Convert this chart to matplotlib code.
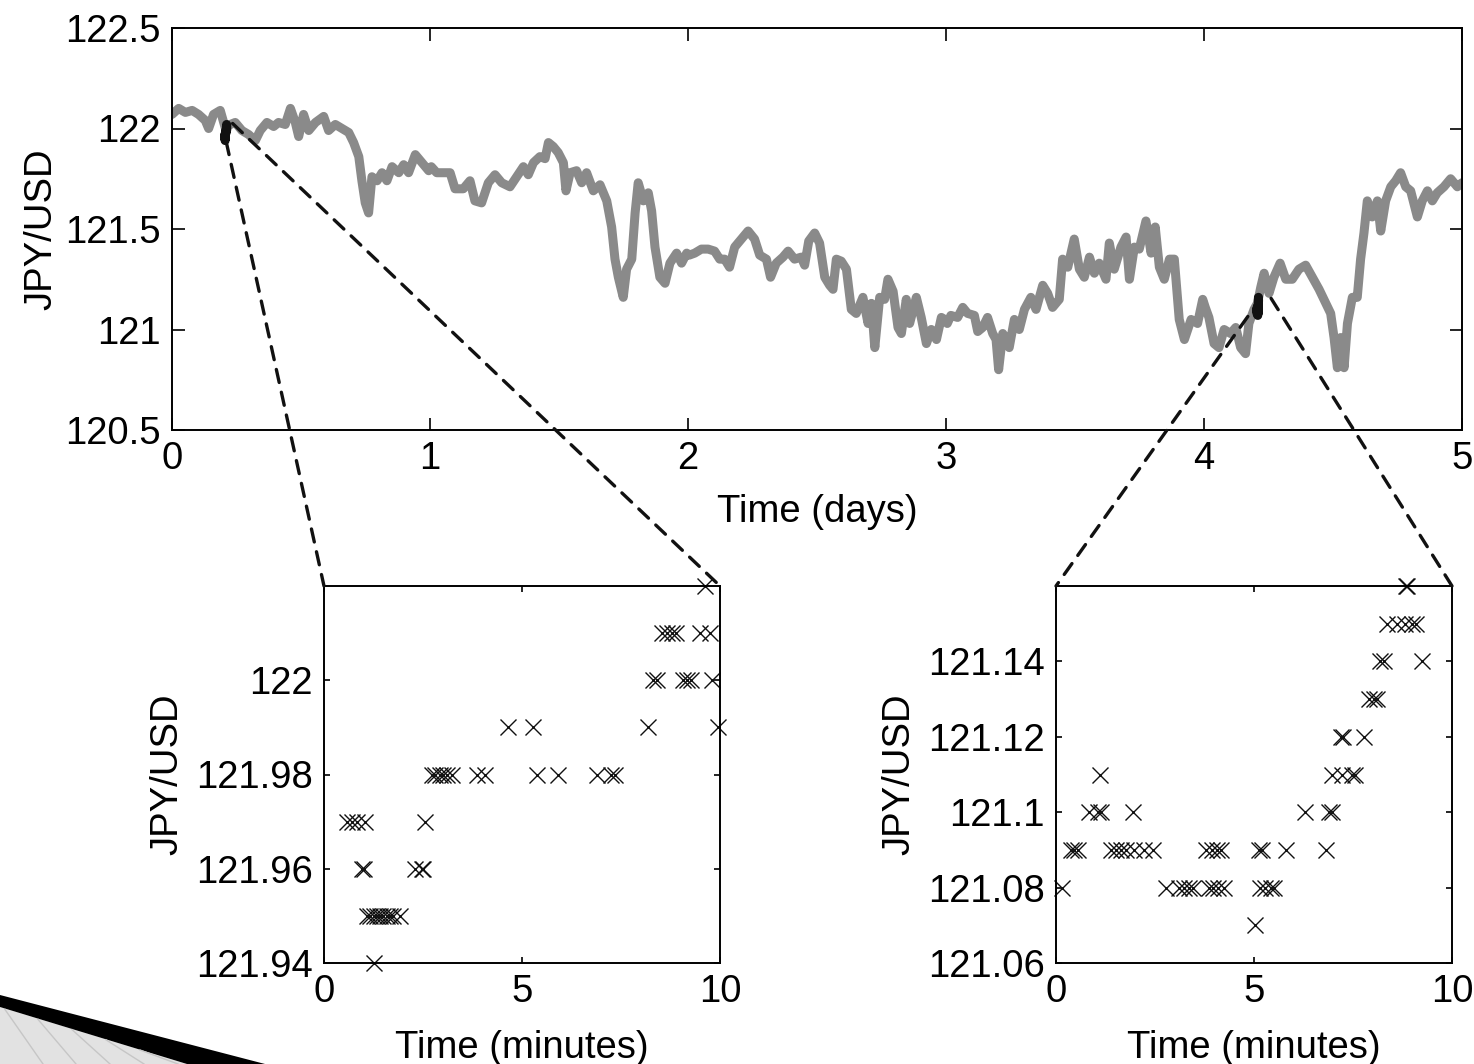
import numpy as np
import matplotlib.pyplot as plt
from matplotlib.patches import ConnectionPatch, Polygon
from matplotlib.lines import Line2D

plt.rcParams['font.family'] = ['Liberation Sans', 'DejaVu Sans']
plt.rcParams['font.size'] = 27.5

# ---- five days of JPY/USD quotes ----
days = [0.000, 0.026, 0.052, 0.078, 0.103, 0.129, 0.142, 0.161, 0.187, 0.207,
        0.226, 0.245, 0.271, 0.297, 0.323, 0.342, 0.368, 0.394, 0.413, 0.439,
        0.459, 0.478, 0.491, 0.510, 0.530, 0.556, 0.588, 0.607, 0.633, 0.659,
        0.685, 0.704, 0.724, 0.736, 0.749, 0.762, 0.775, 0.795, 0.814, 0.833,
        0.853, 0.879, 0.898, 0.917, 0.943, 0.969, 0.995,
        1.005, 1.026, 1.052, 1.078, 1.097, 1.129, 1.155, 1.174, 1.200, 1.226,
        1.252, 1.278, 1.310, 1.336, 1.362, 1.381, 1.401, 1.426, 1.446, 1.459,
        1.478, 1.497, 1.517, 1.527, 1.543, 1.568, 1.588, 1.607, 1.633, 1.659,
        1.685, 1.704, 1.717, 1.730, 1.749, 1.762, 1.782, 1.795, 1.807, 1.827,
        1.846, 1.859, 1.872, 1.891, 1.911, 1.930, 1.956, 1.975, 1.995,
        2.005, 2.026, 2.052, 2.078, 2.103, 2.123, 2.142, 2.161, 2.181, 2.207,
        2.233, 2.258, 2.278, 2.304, 2.320, 2.342, 2.368, 2.388, 2.413, 2.439,
        2.452, 2.468, 2.491, 2.510, 2.530, 2.549, 2.562, 2.575, 2.594, 2.614,
        2.633, 2.652, 2.678, 2.698, 2.711, 2.724, 2.743, 2.762, 2.775, 2.795,
        2.814, 2.827, 2.846, 2.859, 2.885, 2.904, 2.924, 2.943, 2.963, 2.982,
        2.995,
        3.005, 3.019, 3.045, 3.065, 3.084, 3.110, 3.123, 3.142, 3.161, 3.181,
        3.194, 3.204, 3.220, 3.233, 3.245, 3.265, 3.284, 3.304, 3.329, 3.349,
        3.375, 3.394, 3.413, 3.439, 3.452, 3.472, 3.497, 3.517, 3.536, 3.556,
        3.575, 3.594, 3.620, 3.633, 3.652, 3.678, 3.698, 3.711, 3.730, 3.749,
        3.775, 3.795, 3.811, 3.827, 3.846, 3.866, 3.885, 3.904, 3.924, 3.950,
        3.975, 3.995,
        4.005, 4.019, 4.039, 4.058, 4.078, 4.103, 4.123, 4.142, 4.161, 4.174,
        4.194, 4.207, 4.220, 4.233, 4.252, 4.271, 4.295, 4.317, 4.342, 4.368,
        4.394, 4.420, 4.446, 4.472, 4.491, 4.504, 4.517, 4.530, 4.543, 4.556,
        4.575, 4.594, 4.607, 4.620, 4.633, 4.652, 4.672, 4.685, 4.704, 4.724,
        4.743, 4.762, 4.782, 4.801, 4.827, 4.846, 4.866, 4.885, 4.904, 4.930,
        4.956, 4.982, 5.000]
jpy = [122.07, 122.10, 122.08, 122.09, 122.07, 122.04, 122.00, 122.07, 122.09, 122.00,
       122.02, 122.03, 121.99, 121.97, 121.94, 121.99, 122.03, 122.01, 122.03, 122.02,
       122.10, 122.03, 121.96, 122.07, 121.99, 122.03, 122.06, 121.99, 122.02, 122.00,
       121.98, 121.93, 121.86, 121.74, 121.63, 121.58, 121.76, 121.74, 121.78, 121.74,
       121.81, 121.78, 121.82, 121.78, 121.87, 121.83, 121.79,
       121.81, 121.78, 121.78, 121.78, 121.70, 121.70, 121.74, 121.64, 121.63, 121.73,
       121.77, 121.73, 121.71, 121.76, 121.81, 121.77, 121.83, 121.86, 121.85, 121.93,
       121.91, 121.88, 121.83, 121.69, 121.78, 121.79, 121.73, 121.78, 121.69, 121.72,
       121.64, 121.51, 121.35, 121.26, 121.16, 121.30, 121.35, 121.58, 121.73, 121.64,
       121.68, 121.59, 121.41, 121.26, 121.23, 121.33, 121.38, 121.33, 121.38,
       121.37, 121.38, 121.40, 121.40, 121.39, 121.35, 121.35, 121.31, 121.41, 121.45,
       121.49, 121.45, 121.37, 121.35, 121.26, 121.33, 121.36, 121.39, 121.35, 121.36,
       121.32, 121.44, 121.48, 121.43, 121.26, 121.22, 121.20, 121.35, 121.34, 121.30,
       121.10, 121.08, 121.16, 121.03, 121.13, 120.91, 121.16, 121.15, 121.25, 121.19,
       121.01, 120.98, 121.15, 121.03, 121.16, 121.06, 120.93, 121.00, 120.95, 121.06,
       121.05,
       121.03, 121.07, 121.06, 121.11, 121.08, 121.07, 120.99, 121.01, 121.06, 120.98,
       120.95, 120.80, 120.98, 120.95, 120.91, 121.05, 121.00, 121.10, 121.16, 121.10,
       121.22, 121.18, 121.11, 121.15, 121.35, 121.31, 121.45, 121.30, 121.26, 121.36,
       121.28, 121.33, 121.25, 121.43, 121.30, 121.41, 121.46, 121.25, 121.41, 121.40,
       121.54, 121.38, 121.51, 121.31, 121.25, 121.35, 121.35, 121.05, 120.95, 121.05,
       121.03, 121.15,
       121.11, 121.06, 120.93, 120.91, 121.00, 120.98, 121.01, 120.91, 120.88, 121.03,
       121.10, 121.13, 121.21, 121.28, 121.18, 121.26, 121.33, 121.25, 121.25, 121.30,
       121.32, 121.26, 121.20, 121.13, 121.08, 120.96, 120.81, 120.96, 120.81, 121.03,
       121.16, 121.16, 121.35, 121.48, 121.64, 121.56, 121.64, 121.49, 121.64, 121.71,
       121.74, 121.78, 121.71, 121.69, 121.56, 121.64, 121.69, 121.64, 121.68, 121.71,
       121.75, 121.71, 121.73]

# ---- ten-minute windows (tick by tick) ----
start_a = 0.205   # window start, days
min_a = [0.57, 0.70, 0.83, 0.95, 1.00, 1.04, 1.08, 1.16, 1.25, 1.27,
         1.33, 1.42, 1.50, 1.58, 1.67, 1.75, 1.92, 2.30, 2.47, 2.51,
         2.55, 2.72, 2.80, 2.93, 3.01, 3.10, 3.22, 3.86, 4.07, 4.64,
         5.29, 5.37, 5.92, 6.89, 7.26, 7.35, 8.17, 8.31, 8.40, 8.53,
         8.65, 8.78, 8.90, 9.07, 9.16, 9.28, 9.50, 9.62, 9.75, 9.80,
         9.94]
px_a = [121.97, 121.97, 121.97, 121.96, 121.96, 121.97, 121.95, 121.95, 121.94, 121.95,
        121.95, 121.95, 121.95, 121.95, 121.95, 121.95, 121.95, 121.96, 121.96, 121.96,
        121.97, 121.98, 121.98, 121.98, 121.98, 121.98, 121.98, 121.98, 121.98, 121.99,
        121.99, 121.98, 121.98, 121.98, 121.98, 121.98, 121.99, 122.00, 122.00, 122.01,
        122.01, 122.01, 122.01, 122.00, 122.00, 122.00, 122.01, 122.02, 122.01, 122.00,
        121.99]

start_b = 4.205
min_b = [0.15, 0.38, 0.46, 0.55, 0.84, 1.05, 1.12, 1.13, 1.39, 1.51,
         1.64, 1.76, 1.95, 1.97, 2.23, 2.44, 2.77, 3.11, 3.24, 3.36,
         3.45, 3.78, 3.87, 3.95, 3.96, 4.07, 4.08, 4.16, 4.24, 5.03,
         5.13, 5.14, 5.21, 5.29, 5.42, 5.50, 5.80, 6.30, 6.82, 6.89,
         6.97, 6.98, 7.19, 7.23, 7.25, 7.48, 7.56, 7.77, 7.90, 8.03,
         8.11, 8.19, 8.28, 8.36, 8.61, 8.82, 8.83, 8.87, 8.99, 9.08,
         9.24]
px_b = [121.08, 121.09, 121.09, 121.09, 121.10, 121.10, 121.11, 121.10, 121.09, 121.09,
        121.09, 121.09, 121.10, 121.09, 121.09, 121.09, 121.08, 121.08, 121.08, 121.08,
        121.08, 121.09, 121.08, 121.09, 121.08, 121.09, 121.08, 121.09, 121.08, 121.07,
        121.09, 121.08, 121.09, 121.08, 121.08, 121.08, 121.09, 121.10, 121.09, 121.10,
        121.10, 121.11, 121.12, 121.11, 121.12, 121.11, 121.11, 121.12, 121.13, 121.13,
        121.13, 121.14, 121.14, 121.15, 121.15, 121.15, 121.16, 121.16, 121.15, 121.15,
        121.14]

W, H = 1474, 1064
fig = plt.figure(figsize=(W / 100, H / 100), dpi=100)


def px_rect(x0, y0, x1, y1):
    # pixel box (top-left origin) -> figure fraction
    return [x0 / W, 1 - y1 / H, (x1 - x0) / W, (y1 - y0) / H]


def style_axes(ax, tick_len):
    ax.tick_params(direction='in', top=True, right=True, length=tick_len,
                   width=1.2, pad=8)
    for s in ax.spines.values():
        s.set_linewidth(1.4)


# ---- main panel ----
ax = fig.add_axes(px_rect(172, 28, 1462, 430))
ax.plot(days, jpy, color='#8a8a8a', lw=6.5, solid_joinstyle='round',
        solid_capstyle='round')
for t0, mins, vals in [(start_a, min_a, px_a), (start_b, min_b, px_b)]:
    ax.plot(t0 + np.array(mins) / 1440.0, vals, color='#111111', lw=6.5,
            solid_capstyle='round')
ax.set_xlim(0, 5)
ax.set_ylim(120.5, 122.5)
ax.set_xticks([0, 1, 2, 3, 4, 5])
ax.set_yticks([120.5, 121, 121.5, 122, 122.5])
ax.set_yticklabels(['120.5', '121', '121.5', '122', '122.5'])
ax.set_xlabel('Time (days)', labelpad=12)
ax.set_ylabel('JPY/USD', labelpad=4)
style_axes(ax, 9)

# ---- zoomed windows ----
insets = []
for (x0, x1), mins, vals, ylim, yticks, t0 in [
        ((324, 720), min_a, px_a, (121.94, 122.02), [121.94, 121.96, 121.98, 122.00], start_a),
        ((1056, 1452), min_b, px_b, (121.06, 121.16), [121.06, 121.08, 121.10, 121.12, 121.14], start_b)]:
    ia = fig.add_axes(px_rect(x0, 586, x1, 963))
    ia.plot(mins, vals, linestyle='none', marker='x', color='#111111',
            markersize=11, markeredgewidth=1.0, clip_on=False)
    ia.set_xlim(0, 10)
    ia.set_ylim(*ylim)
    ia.set_xticks([0, 5, 10])
    ia.set_yticks(yticks)
    ia.set_yticklabels([('%g' % v) for v in yticks])
    ia.set_xlabel('Time (minutes)', labelpad=14)
    ia.set_ylabel('JPY/USD', labelpad=8)
    style_axes(ia, 4)
    insets.append((ia, t0, mins, vals))

# dashed guides from each window in the main panel to its zoom box
for ia, t0, mins, vals in insets:
    lo, hi = min(vals), max(vals)
    ends = [((t0 + 0.005, lo - 0.005), (0, 1)), ((t0 + 0.03, hi + 0.005), (1, 1))]
    if t0 > 2:
        ends = [((t0 - 0.035, lo - 0.005), (0, 1)), ((t0 + 0.055, hi - 0.005), (1, 1))]
    for pa, pb in ends:
        con = ConnectionPatch(xyA=pa, coordsA=ax.transData, xyB=pb,
                              coordsB=ia.transAxes, color='#111111', lw=2.4,
                              linestyle=(0, (4, 3)))
        fig.add_artist(con)

# slide corner decoration
def fig_pts(pts):
    return [(x / W, 1 - y / H) for x, y in pts]

fig.add_artist(Polygon(fig_pts([(0, 1007), (187, 1064), (0, 1064)]),
                       closed=True, transform=fig.transFigure,
                       facecolor='#e2e2e2', edgecolor='none'))
for sx in [5, 38, 72, 106, 140]:
    fig.add_artist(Line2D([sx / W, (sx + 38) / W],
                          [1 - (1008 + sx * 0.3) / H, 1 - 1064 / H],
                          transform=fig.transFigure, color='#c6c6c6', lw=1.0))
fig.add_artist(Polygon(fig_pts([(0, 995), (265, 1064), (187, 1064), (0, 1007)]),
                       closed=True, transform=fig.transFigure,
                       facecolor='black', edgecolor='none'))

fig.savefig('out.png', dpi=100)
